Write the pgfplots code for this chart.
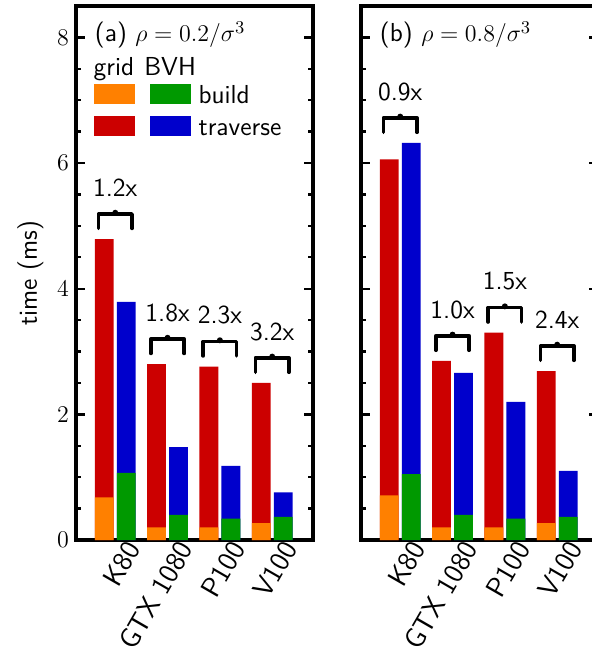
\documentclass[border=0pt]{standalone}
\usepackage{fontspec}
\usepackage{pgfplots}
\pgfplotsset{compat=1.18}
\definecolor{cOrange}{RGB}{255,128,0}
\definecolor{cGreen}{RGB}{0,153,0}
\definecolor{cRed}{RGB}{204,0,0}
\definecolor{cBlue}{RGB}{0,0,204}
\pgfplotsset{
  panel/.style={
    scale only axis, width=118.5pt, height=267pt,
    xmin=-0.75, xmax=3.78, ymin=0, ymax=8.5,
    ybar, bar width=0.36, bar shift=0pt,
    xtick={0,1,2,3}, xticklabels={K80,GTX 1080,P100,V100},
    major x tick style=transparent,
    xticklabel style={rotate=60, anchor=north east, inner sep=1pt, xshift=4pt, yshift=-2.5pt,
      font=\sffamily\fontsize{14}{16}\selectfont},
    ytick={0,2,4,6,8}, minor y tick num=3,
    tick align=inside,
    major tick length=4.5pt, minor tick length=2.5pt,
    tick style={black, line width=1.2pt},
    axis line style={line width=2pt},
  },
  swatch/.style={legend image code/.code={\fill[#1] (0pt,-4.75pt) rectangle (20pt,4.75pt);}},
  bars/.style={fill=#1, draw=none, bar shift=0pt, forget plot},
}
\newcommand{\bracket}[5]{%
  \draw[line width=1.8pt, line cap=round, line join=round] (axis cs:#1-0.32,#2) -- (axis cs:#1-0.32,#3) -- (axis cs:#1+0.32,#3) -- (axis cs:#1+0.32,#2);
  \fill (axis cs:#1,#3) ++(0pt,0.6pt) circle (1.5pt);
  \node[anchor=base] at (axis cs:#1,#4) {#5};
}
\begin{document}
\begin{tikzpicture}[font=\sffamily\fontsize{13}{15}\selectfont]
\begin{axis}[panel, name=a, at={(0pt,0pt)}, anchor=south west,
  ylabel={time (ms)},
  legend columns=2, legend cell align=left,
  legend style={at={(rel axis cs:0.076,0.854)}, anchor=north west, draw=none, fill=none,
    inner sep=0pt, outer sep=0pt,
    nodes={inner sep=0pt, text height=9.5pt, text depth=0pt}, row sep=6pt,
    /tikz/every odd column/.style={column sep=4pt},
    /tikz/every even column/.style={column sep=2.5pt}},
]
\addlegendimage{swatch=cOrange}\addlegendentry{}
\addlegendimage{swatch=cGreen}\addlegendentry{build}
\addlegendimage{swatch=cRed}\addlegendentry{}
\addlegendimage{swatch=cBlue}\addlegendentry{traverse}
% grid: total (build + traverse), then build
\addplot[bars=cRed] coordinates {(-0.21,4.79) (0.79,2.80) (1.79,2.76) (2.79,2.50)};
\addplot[bars=cOrange] coordinates {(-0.21,0.68) (0.79,0.20) (1.79,0.20) (2.79,0.27)};
% BVH: total, then build
\addplot[bars=cBlue] coordinates {(0.21,3.79) (1.21,1.48) (2.21,1.18) (3.21,0.76)};
\addplot[bars=cGreen] coordinates {(0.21,1.07) (1.21,0.40) (2.21,0.34) (3.21,0.37)};
\bracket{0}{4.96}{5.19}{5.47}{1.2x}
\bracket{1}{2.97}{3.20}{3.48}{1.8x}
\bracket{2}{2.93}{3.16}{3.44}{2.3x}
\bracket{3}{2.67}{2.90}{3.18}{3.2x}
\node[anchor=base west] at (rel axis cs:0.05,0.933) {(a) $\rho=0.2/\sigma^3$};
\node[anchor=base] at (rel axis cs:0.160,0.869) {grid};
\node[anchor=base] at (rel axis cs:0.397,0.869) {BVH};
\end{axis}
\begin{axis}[panel, name=b, at={(142.5pt,0pt)}, anchor=south west, yticklabels={}]
\addplot[bars=cRed] coordinates {(-0.21,6.06) (0.79,2.85) (1.79,3.30) (2.79,2.69)};
\addplot[bars=cOrange] coordinates {(-0.21,0.71) (0.79,0.20) (1.79,0.20) (2.79,0.27)};
\addplot[bars=cBlue] coordinates {(0.21,6.32) (1.21,2.66) (2.21,2.20) (3.21,1.10)};
\addplot[bars=cGreen] coordinates {(0.21,1.05) (1.21,0.40) (2.21,0.34) (3.21,0.37)};
\bracket{0}{6.49}{6.72}{7.00}{0.9x}
\bracket{1}{3.02}{3.25}{3.53}{1.0x}
\bracket{2}{3.47}{3.70}{3.98}{1.5x}
\bracket{3}{2.86}{3.09}{3.37}{2.4x}
\node[anchor=base west] at (rel axis cs:0.05,0.933) {(b) $\rho=0.8/\sigma^3$};
\end{axis}
\pgfresetboundingbox
\useasboundingbox (-38pt,-57pt) rectangle (258pt,270pt);
\end{tikzpicture}
\end{document}
